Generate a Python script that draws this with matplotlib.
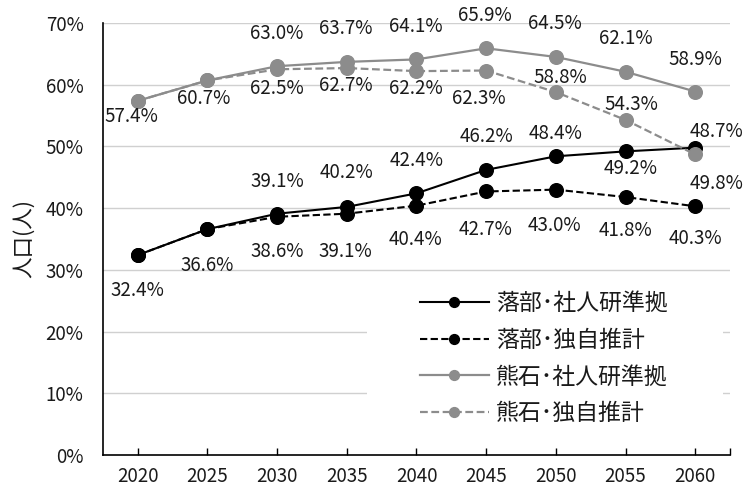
import matplotlib
matplotlib.use("Agg")
import matplotlib.pyplot as plt
from matplotlib.patches import Rectangle

plt.rcParams['font.family'] = ['Noto Sans CJK JP', 'DejaVu Sans']

years = [2020, 2025, 2030, 2035, 2040, 2045, 2050, 2055, 2060]

ochibe_ipss = [32.4, 36.6, 39.1, 40.2, 42.4, 46.2, 48.4, 49.2, 49.8]
ochibe_own = [32.4, 36.6, 38.6, 39.1, 40.4, 42.7, 43.0, 41.8, 40.3]
kumaishi_ipss = [57.4, 60.7, 63.0, 63.7, 64.1, 65.9, 64.5, 62.1, 58.9]
kumaishi_own = [57.4, 60.7, 62.5, 62.7, 62.2, 62.3, 58.8, 54.3, 48.7]

series_names = ['落部･社人研準拠', '落部･独自推計', '熊石･社人研準拠', '熊石･独自推計']
y_ticks = [0, 10, 20, 30, 40, 50, 60, 70]
y_label = '人口(人)'

# label placement (pixel offsets from each point), first two points of the
# 社人研準拠 series share the 独自推計 labels and are left unlabelled
off_ochibe_ipss = [None, None, (0, 32), (0, 34), (0, 33), (0, 33), (0, 23), (5, -17), (21, -36)]
off_ochibe_own = [(0, -35), (0, -36), (0, -35), (-1, -38), (-1, -34), (-1, -38), (-1, -36), (0, -33), (0, -32)]
off_kuma_ipss = [None, None, (0, 33), (-1, 33), (-1, 33), (-1, 33), (-1, 33), (0, 33), (0, 32)]
off_kuma_own = [(-6, -16), (-4, -18), (0, -19), (-1, -17), (-1, -17), (-7, -28), (4, 15), (6, 15), (21, 23)]

BLACK = '#000000'
GRAY = '#8c8c8c'
TEXT = '#1a1a1a'

fig = plt.figure(figsize=(7.55, 4.91), dpi=100)
ax = fig.add_axes([103 / 755, 36 / 491, 627 / 755, 432 / 491])

x = list(range(len(years)))
ax.set_xlim(-0.5, len(years) - 0.5)
ax.set_ylim(0, 70)

for v in y_ticks[1:]:
    ax.axhline(v, color='#d0d0d0', lw=1.0, zorder=1)

# white panel behind the legend
ax.add_patch(Rectangle((367, 491 - 425), 356, 148, transform=None,
                       facecolor='white', edgecolor='none', zorder=2))

ms = 9.8
dash = (3.5, 1.6)
l1, = ax.plot(x, ochibe_ipss, color=BLACK, lw=1.5, marker='o', ms=ms, zorder=4)
l2, = ax.plot(x, ochibe_own, color=BLACK, lw=1.5, ls=(0, dash), marker='o', ms=ms, zorder=4)
l3, = ax.plot(x, kumaishi_ipss, color=GRAY, lw=1.6, marker='o', ms=ms, zorder=5)
l4, = ax.plot(x, kumaishi_own, color=GRAY, lw=1.6, ls=(0, dash), marker='o', ms=ms, zorder=5)

for vals, offs in [(ochibe_ipss, off_ochibe_ipss), (ochibe_own, off_ochibe_own),
                   (kumaishi_ipss, off_kuma_ipss), (kumaishi_own, off_kuma_own)]:
    for xi, v, o in zip(x, vals, offs):
        if o is None:
            continue
        ax.annotate(f'{v:.1f}%', (xi, v), xytext=o, textcoords='offset pixels',
                    ha='center', va='center', fontsize=13.5, color=TEXT,
                    zorder=6, annotation_clip=False)

ax.set_xticks(x + [len(years) - 0.5])
ax.set_xticklabels([str(y) for y in years] + [''])
ax.tick_params(axis='x', direction='in', length=5, width=1, pad=8, labelsize=13.5,
               colors='black', labelcolor=TEXT)
ax.set_yticks(y_ticks)
ax.set_yticklabels([f'{v}%' for v in y_ticks])
ax.tick_params(axis='y', length=0, pad=14, labelsize=13.5, labelcolor=TEXT)

for s in ['top', 'right']:
    ax.spines[s].set_visible(False)
for s in ['left', 'bottom']:
    ax.spines[s].set_color('black')
    ax.spines[s].set_linewidth(1.2)
    ax.spines[s].set_zorder(3)

fig.text(24 / 755, 1 - 238 / 491, y_label, rotation=90, ha='center', va='center',
         fontsize=15.5, color=TEXT)

leg = fig.legend([l1, l2, l3, l4], series_names, loc='upper left',
                 bbox_to_anchor=(420 / 755, 1 - 292 / 491), frameon=False,
                 fontsize=16.5, handlelength=3.0, handletextpad=0.3,
                 labelspacing=0.6, borderpad=0, borderaxespad=0,
                 markerscale=0.72, labelcolor=TEXT)

fig.savefig('out.png', dpi=100)
